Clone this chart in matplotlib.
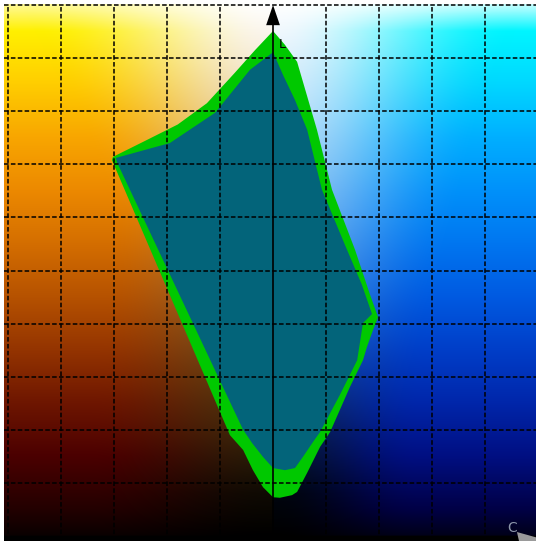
import numpy as np
import matplotlib
matplotlib.use('Agg')
import matplotlib.pyplot as plt
from matplotlib.patches import Polygon

# 色域切面資料 (C, L)
outer_c = [0, 4.5, 9.1, 16.6, 22.3, 31.0, 36.7, 39.7, 37.8, 35.5, 34.0, 29.1,
           21.6, 17.8, 12.9, 9.1, 7.2, 2.6, 0, -3.8, -7.6, -11.3, -16.3,
           -60.9, -60.5, -48.0, -36.0, -25.0, -14.5, -6.8]
outer_L = [95.1, 92.5, 89.3, 76.5, 65.2, 53.9, 45.4, 41.2, 38.8, 35.6, 33.1, 28.1,
           19.6, 16.8, 11.9, 8.3, 7.7, 7.2, 7.3, 9.2, 12.4, 16.2, 19.0,
           70.8, 71.4, 74.5, 77.5, 81.5, 87.2, 91.5]

inner_c = [0, 3.8, 8.3, 12.9, 18.5, 27.2, 33.6, 37.4, 34.0, 31.8, 25.3, 17.8,
           15.1, 11.3, 8.3, 4.5, 0, -3.8, -7.9, -11.3, -59.0, -59.4, -39.0,
           -21.9, -8.7]
inner_L = [91.1, 86.8, 82.1, 76.5, 65.2, 54.8, 47.3, 41.8, 40.1, 33.1, 26.6, 19.6,
           17.7, 14.9, 12.8, 12.4, 12.8, 14.9, 17.5, 20.0, 70.4, 71.2, 74.0,
           79.7, 87.8]

c_grid = [-100, -80, -60, -40, -20, 20, 40, 60, 80]
L_grid = [10, 20, 30, 40, 50, 60, 70, 80, 90, 100]

# 背景顏色 (依 L)：邊緣與中央
edge_L = [0, 5, 15, 25, 35, 45, 55, 65, 75, 85, 95, 100]
left_rgb = [(10, 0, 0), (35, 0, 0), (75, 0, 0), (110, 22, 0), (148, 52, 0),
            (182, 82, 0), (212, 110, 0), (236, 137, 0), (248, 166, 0),
            (255, 205, 0), (255, 240, 0), (255, 250, 150)]
right_rgb = [(0, 0, 25), (0, 0, 70), (0, 15, 130), (0, 38, 170), (0, 62, 200),
             (0, 90, 225), (0, 118, 240), (0, 145, 250), (0, 175, 255),
             (0, 215, 255), (0, 245, 255), (200, 255, 255)]
mid_L = [0, 8, 20, 30, 40, 50, 60, 70, 80, 90, 100]
mid_left_rgb = [(0, 0, 0), (15, 10, 3), (60, 40, 10), (88, 62, 18), (115, 88, 40),
                (145, 118, 80), (175, 150, 115), (205, 182, 150), (232, 212, 182),
                (246, 236, 220), (255, 255, 255)]
mid_right_rgb = [(0, 0, 0), (0, 5, 15), (10, 30, 70), (20, 60, 130), (50, 110, 190),
                 (90, 150, 225), (125, 180, 240), (160, 205, 245), (195, 225, 250),
                 (225, 240, 252), (255, 255, 255)]
# 由中央過渡到邊緣的寬度 (C 單位)
width_L = [0, 20, 40, 60, 80, 100]
width_left = [70, 70, 65, 60, 75, 95]
width_right = [55, 55, 60, 70, 80, 95]


def profile(L, levels, colors):
    return np.stack([np.interp(L, levels, [p[i] for p in colors]) for i in range(3)], -1) / 255


fig = plt.figure(figsize=(5.36, 5.41), dpi=100)
ax = fig.add_axes([0, 0, 1, 1])
ax.set_xlim(-103.2, 99.4)
ax.set_ylim(-0.94, 100.94)

# 背景
cx0, cx1 = -101.7, 99.4
Ly0, Ly1 = -0.94, 100
cc, LL = np.meshgrid(np.linspace(cx0, cx1, 600), np.linspace(Ly0, Ly1, 600))
Lc = np.clip(LL, 0, 100)
is_left = (cc < 0)[..., None]
edge = np.where(is_left, profile(Lc, edge_L, left_rgb), profile(Lc, edge_L, right_rgb))
mid = np.where(is_left, profile(Lc, mid_L, mid_left_rgb), profile(Lc, mid_L, mid_right_rgb))
width = np.where(cc < 0, np.interp(Lc, width_L, width_left), np.interp(Lc, width_L, width_right))
t = np.clip(np.abs(cc) / width, 0, 1)
w = (t * t * (3 - 2 * t))[..., None]
img = mid + (edge - mid) * w
img[LL < 0] = 0
ax.imshow(img, extent=(cx0, cx1, Ly0, Ly1), origin='lower', aspect='auto',
          interpolation='bilinear', zorder=0)

ax.add_patch(Polygon(np.column_stack([outer_c, outer_L]), closed=True,
                     facecolor='#00c800', edgecolor='none', zorder=1))
ax.add_patch(Polygon(np.column_stack([inner_c, inner_L]), closed=True,
                     facecolor='#03647a', edgecolor='none', zorder=2))

for c in c_grid:
    ax.plot([c, c], [Ly0, Ly1], color='black', lw=1.1, ls=(0, (3, 1.5)), zorder=3)
for L in L_grid:
    ax.plot([cx0, cx1], [L, L], color='black', lw=1.1, ls=(0, (3, 1.5)), zorder=3)

# L 軸
ax.plot([0, 0], [Ly0, 97], color='black', lw=1.2, zorder=4)
ax.add_patch(Polygon([[0, 100], [-2.6, 96.2], [2.6, 96.2]], closed=True,
                     facecolor='black', edgecolor='none', zorder=5))
ax.text(2.2, 92.6, 'L', fontsize=9, color='black', ha='left', va='center', zorder=6)

# C 軸
ax.text(90.5, 1.6, 'C', fontsize=10, color='#8c96aa', ha='center', va='center', zorder=6)
ax.add_patch(Polygon([[92.2, 0.75], [100.5, -0.4], [100.5, -1.0], [93.0, -1.0]],
                     closed=True, facecolor='#9a9a9a', edgecolor='none', zorder=5))

ax.axis('off')
fig.savefig('out.png', dpi=100, facecolor='white')
